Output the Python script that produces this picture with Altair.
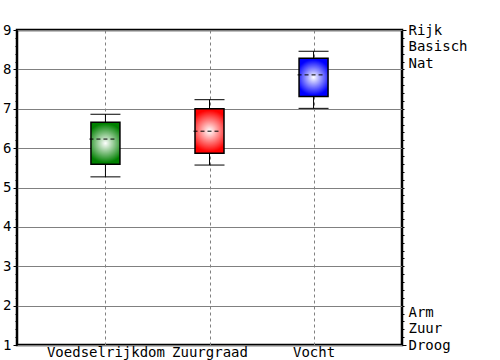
import altair as alt
import pandas as pd

categories = ["Voedselrijkdom", "Zuurgraad", "Vocht"]
whisker_low = [5.27, 5.57, 7.01]
box_low = [5.59, 5.87, 7.31]
mid_line = [6.23, 6.43, 7.86]
box_high = [6.66, 7.00, 8.28]
whisker_high = [6.86, 7.23, 8.46]
box_colors = ["#008000", "#ff0000", "#0000ff"]
right_top = ["Rijk", "Basisch", "Nat"]
right_bottom = ["Arm", "Zuur", "Droog"]

minor_values = [round(1 + 0.2 * i, 1) for i in range(41)]

df = pd.DataFrame({
    "cat": categories,
    "wl": whisker_low,
    "bl": box_low,
    "mid": mid_line,
    "bh": box_high,
    "wh": whisker_high,
})

FONT = "DejaVu Sans Mono"
is_int = "abs(datum.value - round(datum.value)) < 0.01"

x_enc = alt.X(
    "cat:N",
    sort=categories,
    scale=alt.Scale(type="point", padding=0.85, domain=categories),
    axis=alt.Axis(
        title=None, domain=False, ticks=False, labelAngle=0,
        labelFont=FONT, labelFontSize=14, labelColor="black", labelPadding=0,
        grid=True, gridColor="#808080", gridDash=[3, 3], gridWidth=1,
    ),
)
y_scale = alt.Scale(domain=[1, 9], nice=False, zero=False)

left_axis = alt.Axis(
    title=None, domain=False, values=minor_values,
    labelExpr=f"{is_int} ? toString(round(datum.value)) : ''",
    labelFont=FONT, labelFontSize=14, labelColor="black", labelPadding=2,
    labelOverlap=False, labelFlush=False,
    tickColor="black",
    tickSize={"condition": {"test": is_int, "value": 4}, "value": 2},
    grid=True, gridColor="#808080", gridWidth=1,
    gridOpacity={"condition": {"test": is_int, "value": 1}, "value": 0},
)

top_lbl = "[" + ",".join(f"'{t}'" for t in right_top) + "]"
bot_lbl = "[" + ",".join(f"'{t}'" for t in right_bottom) + "]"
right_axis = alt.Axis(
    title=None, domain=False, orient="right", values=minor_values,
    labelExpr=f"datum.value == 9 ? {top_lbl} : (datum.value == 1 ? {bot_lbl} : '')",
    labelFont=FONT, labelFontSize=14, labelColor="black", labelPadding=2,
    labelLineHeight=16.5, labelBaseline="middle",
    labelOffset={"condition": {"test": "datum.value == 9", "value": 0}, "value": -33},
    labelOverlap=False, labelFlush=False,
    tickColor="black",
    tickSize={"condition": {"test": "datum.value == 9 || datum.value == 1", "value": 4}, "value": 2},
    grid=False,
)

base = alt.Chart(df)

whiskers = base.mark_rule(color="black", strokeWidth=1).encode(
    x=x_enc,
    y=alt.Y("wl:Q", scale=y_scale, axis=left_axis),
    y2="wh:Q",
)
cap_hi = base.mark_rule(color="black", strokeWidth=1, xOffset=-15, x2Offset=15).encode(
    x=x_enc, x2=alt.X2("cat:N"),
    y=alt.Y("wh:Q", scale=y_scale, axis=None),
)
cap_lo = base.mark_rule(color="black", strokeWidth=1, xOffset=-15, x2Offset=15).encode(
    x=x_enc, x2=alt.X2("cat:N"),
    y=alt.Y("wl:Q", scale=y_scale, axis=None),
)

boxes = []
for c, col in zip(categories, box_colors):
    grad = alt.RadialGradient(
        gradient="radial", x1=0.5, y1=0.5, x2=0.5, y2=0.5, r1=0, r2=0.55,
        stops=[alt.GradientStop(offset=0, color="white"),
               alt.GradientStop(offset=0.85, color=col),
               alt.GradientStop(offset=1, color=col)],
    )
    boxes.append(
        base.transform_filter(alt.datum.cat == c)
        .mark_bar(fill=grad, stroke="black", strokeWidth=1.5, width=29, opacity=1)
        .encode(x=x_enc, y=alt.Y("bl:Q", scale=y_scale, axis=None), y2="bh:Q")
    )

mids = base.mark_rule(color="black", strokeWidth=1, strokeDash=[4, 3],
                      xOffset=-16, x2Offset=12).encode(
    x=x_enc, x2=alt.X2("cat:N"),
    y=alt.Y("mid:Q", scale=y_scale, axis=None),
)

right = base.mark_rule(opacity=0).encode(
    x=x_enc,
    y=alt.Y("mid:Q", scale=y_scale, axis=right_axis),
)

chart = alt.layer(whiskers, cap_hi, cap_lo, *boxes, mids, right).resolve_axis(
    y="independent"
).properties(
    width=385, height=315,
    autosize=alt.AutoSizeParams(type="none"),
    padding={"left": 17, "top": 30, "right": 98, "bottom": 15},
    background="white",
).configure_view(stroke="black", strokeWidth=2.5)

chart.save("out.html", embed_options={"renderer": "svg", "actions": False})
